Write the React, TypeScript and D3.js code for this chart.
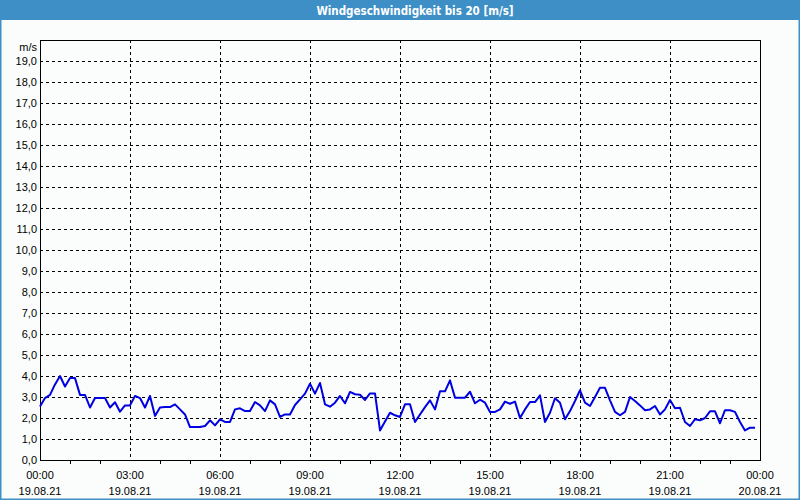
import React from "react";
import * as d3 from "d3";

// wind speed every 10 minutes from 00:00 to 23:50 (m/s)
const windValues: number[] = [
  2.55, 2.95, 3.1, 3.6, 4.0, 3.5, 3.9, 3.9, 3.1, 3.1,
  2.5, 2.95, 2.95, 2.95, 2.5, 2.75, 2.3, 2.6, 2.6, 3.05,
  2.95, 2.5, 3.05, 2.1, 2.5, 2.52, 2.52, 2.65, 2.41, 2.17,
  1.57, 1.57, 1.57, 1.62, 1.89, 1.65, 1.94, 1.81, 1.81, 2.41,
  2.46, 2.33, 2.33, 2.76, 2.6, 2.33, 2.84, 2.65, 2.05, 2.17,
  2.17, 2.62, 2.89, 3.16, 3.63, 3.16, 3.67, 2.65, 2.54, 2.73,
  3.05, 2.7, 3.24, 3.13, 3.11, 2.86, 3.17, 3.17, 1.41, 1.83,
  2.25, 2.13, 2.05, 2.65, 2.65, 1.81, 2.17, 2.52, 2.84, 2.41,
  3.27, 3.27, 3.79, 2.97, 2.97, 2.97, 3.25, 2.7, 2.87, 2.73,
  2.29, 2.29, 2.41, 2.78, 2.68, 2.78, 2.0, 2.41, 2.76, 2.76,
  3.08, 1.81, 2.25, 2.94, 2.73, 1.94, 2.33, 2.81, 3.32, 2.73,
  2.57, 3.0, 3.44, 3.44, 2.84, 2.29, 2.13, 2.29, 3.0, 2.81,
  2.6, 2.37, 2.41, 2.57, 2.17, 2.41, 2.86, 2.46, 2.49, 1.81,
  1.62, 1.94, 1.89, 2.0, 2.32, 2.32, 1.75, 2.37, 2.37, 2.29,
  1.81, 1.41, 1.54, 1.54,
];
const minutes: number[] = windValues.map((_, i) => i * 10);

const xTickHours: number[] = [0, 3, 6, 9, 12, 15, 18, 21, 24];
const xTimeLabels: string[] = ["00:00", "03:00", "06:00", "09:00", "12:00", "15:00", "18:00", "21:00", "00:00"];
const xDateLabels: string[] = ["19.08.21", "19.08.21", "19.08.21", "19.08.21", "19.08.21", "19.08.21", "19.08.21", "19.08.21", "20.08.21"];
const minorHours: number[] = d3.range(1, 24);
const yTicks: number[] = d3.range(0, 20);
const title = "Windgeschwindigkeit bis 20 [m/s]";
const unit = "m/s";

const W = 800, H = 500;
const left = 40, right = 760, top = 40, bottom = 460;

export default function App() {
  const x = d3.scaleLinear().domain([0, 24 * 60]).range([left, right]);
  const y = d3.scaleLinear().domain([0, 20]).range([bottom, top]);
  const line = d3.line<number>().x((_, i) => x(minutes[i])).y((d) => y(d));
  const font = "'Liberation Sans', Arial, sans-serif";

  return (
    <svg width={W} height={H} style={{ position: "fixed", left: 0, top: 0 }} fontFamily={font}>
      <rect x={0} y={0} width={W} height={H} fill="#fbfdfc" />
      <rect x={0.5} y={0.5} width={W - 1} height={H - 1} fill="none" stroke="#3d8fc6" strokeWidth={2} />
      <rect x={0} y={0} width={W} height={20} fill="#3d8fc6" />
      <text x={415} y={14.5} textAnchor="middle" fill="#ffffff" fontWeight="bold" fontSize={11.5}
        fontFamily="'DejaVu Sans Condensed', 'DejaVu Sans', sans-serif">{title}</text>

      {/* horizontal grid */}
      {yTicks.filter((v) => v > 0).map((v) => (
        <line key={"hg" + v} x1={left} x2={right} y1={Math.round(y(v)) + 0.5} y2={Math.round(y(v)) + 0.5}
          stroke="#000" strokeDasharray="3,3" strokeWidth={1} />
      ))}
      {/* vertical grid */}
      {xTickHours.filter((h) => h > 0 && h < 24).map((h) => (
        <line key={"vg" + h} x1={Math.round(x(h * 60)) + 0.5} x2={Math.round(x(h * 60)) + 0.5} y1={top} y2={bottom}
          stroke="#000" strokeDasharray="3,3" strokeWidth={1} />
      ))}
      {/* minor hour ticks */}
      {minorHours.filter((h) => h % 3 !== 0).map((h) => (
        <line key={"mt" + h} x1={Math.round(x(h * 60)) + 0.5} x2={Math.round(x(h * 60)) + 0.5} y1={bottom} y2={bottom + 4}
          stroke="#000" strokeWidth={1} />
      ))}
      {/* frame */}
      <rect x={left + 0.5} y={top + 0.5} width={right - left} height={bottom - top} fill="none" stroke="#000" strokeWidth={1} />

      {/* y labels */}
      {yTicks.map((v) => (
        <text key={"yl" + v} x={37} y={y(v) + 4} textAnchor="end" fontSize={11} fill="#000">
          {v.toFixed(1).replace(".", ",")}
        </text>
      ))}
      <text x={37} y={51} textAnchor="end" fontSize={11} fill="#000">{unit}</text>

      {/* x labels */}
      {xTickHours.map((h, i) => (
        <g key={"xl" + i}>
          <text x={x(h * 60)} y={479} textAnchor="middle" fontSize={11} fill="#000">{xTimeLabels[i]}</text>
          <text x={x(h * 60)} y={495} textAnchor="middle" fontSize={11} fill="#000">{xDateLabels[i]}</text>
        </g>
      ))}

      <path d={line(windValues) || ""} fill="none" stroke="#0000e0" strokeWidth={2} strokeLinejoin="round" />
    </svg>
  );
}
